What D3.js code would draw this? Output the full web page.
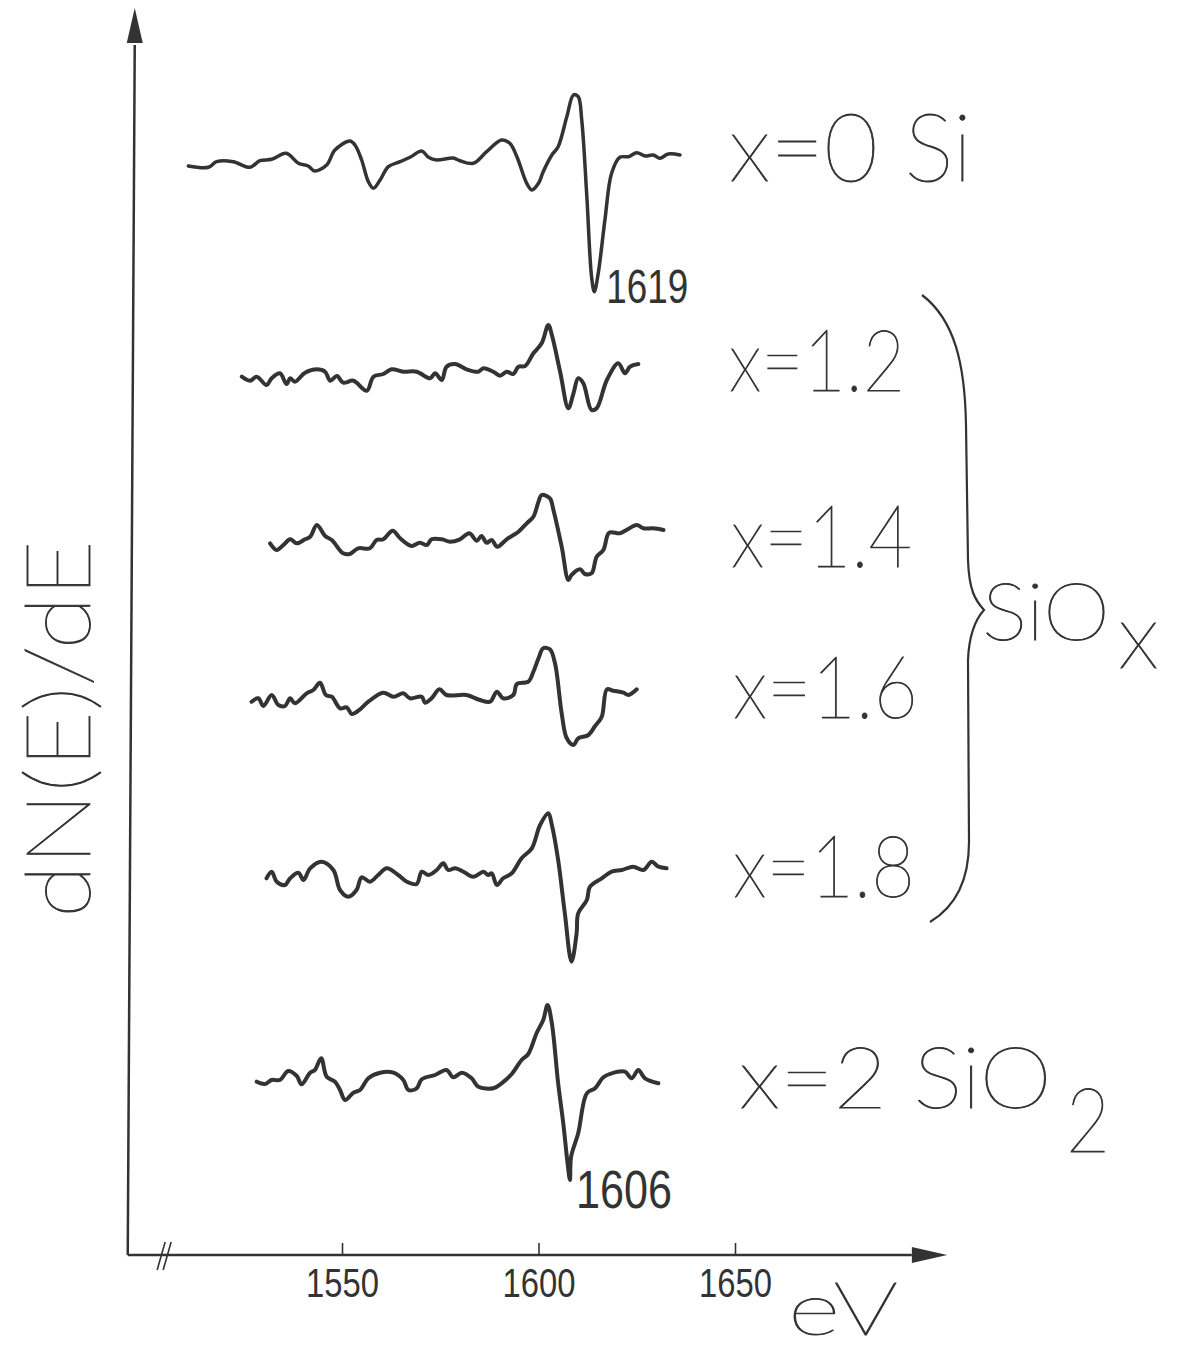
<!DOCTYPE html>
<html>
<head>
<meta charset="utf-8">
<script src="https://cdn.jsdelivr.net/npm/d3@7"></script>
<style>
  body { margin: 0; background: #fff; }
</style>
</head>
<body>
<div id="chart-wrapper"></div>
<script>
let width = 1185
let height = 1352
let ink = "#333"

// Auger spectra, [energy eV, dN/dE arb. units] relative to each trace baseline
let si = [
  [1510.9,-0.6],[1516.0,-0.73],[1518.1,-0.17],[1522.3,-0.17],[1526.6,-0.73],[1529.1,-0.07],
  [1532.1,0.07],[1535.8,0.67],[1538.9,-0.33],[1541.4,-0.6],[1543.0,-1.1],[1546.1,-0.5],
  [1548.2,1.0],[1552.0,1.9],[1553.3,1.5],[1555.0,0],[1556.7,-2.17],[1558.0,-2.83],
  [1559.7,-2.0],[1561.8,-0.67],[1564.8,-0.17],[1567.3,0.27],[1570.3,0.9],[1572.0,0.27],
  [1574.1,0],[1578.3,0.2],[1580.0,-0.07],[1583.4,-0.33],[1586.8,0.83],[1590.6,2.0],
  [1592.7,1.67],[1594.5,0.33],[1597.0,-2.33],[1598.3,-3.0],[1600.0,-2.33],[1601.2,-1.17],
  [1603.4,0.5],[1605.0,1.33],[1607.2,4.33],[1608.9,6.5],[1610.1,6.33],[1611.0,4.0],
  [1612.3,-3.67],[1613.5,-11.67],[1614.2,-13.17],[1615.2,-11.33],[1616.9,-6.0],[1618.6,-1.33],
  [1620.7,0.27],[1622.9,0.33],[1625.0,0.73],[1627.1,0.4],[1629.2,0.5],[1630.9,0.17],
  [1633.0,0.6],[1636.0,0.5]
]
let x12 = [
  [1524.5,-0.37],[1526.6,-0.77],[1528.3,-0.37],[1530.8,-1.2],[1532.1,-0.53],[1534.2,-0.03],
  [1535.9,-1.1],[1536.8,-0.53],[1538.0,-0.87],[1540.6,0.03],[1543.6,0.37],[1545.7,0.13],
  [1547.0,-0.77],[1548.7,-0.3],[1550.3,-0.97],[1552.9,-0.77],[1556.3,-1.77],[1558.0,-0.37],
  [1560.5,-0.1],[1562.6,0.37],[1565.6,0.13],[1569.0,0.13],[1572.4,-0.53],[1573.7,-0.03],
  [1575.4,-0.7],[1576.6,0.63],[1578.8,0.9],[1581.7,0.37],[1584.7,0.13],[1586.0,0.47],
  [1588.5,0.13],[1590.2,-0.27],[1591.9,0.13],[1593.6,-0.1],[1594.9,0.63],[1596.6,0.7],
  [1598.7,1.97],[1600.8,2.97],[1602.5,4.8],[1603.4,3.8],[1605.5,0.13],[1607.6,-3.53],
  [1608.9,-2.03],[1610.1,-0.53],[1611.4,-1.03],[1613.5,-3.7],[1614.8,-3.53],[1617.4,-0.7],
  [1620.3,0.97],[1622.0,-0.03],[1623.3,0.63],[1625.4,0.9]
]
let x14 = [
  [1531.7,-0.33],[1533.4,-1.0],[1535.1,-0.5],[1536.8,0.07],[1538.5,-0.33],[1540.6,0.07],
  [1541.9,0.33],[1543.6,1.5],[1545.7,0.4],[1547.4,0],[1550.3,-1.33],[1552.0,-1.4],
  [1554.1,-0.83],[1557.1,-0.83],[1558.8,0],[1560.5,0.07],[1562.9,0.93],[1564.8,0.17],
  [1567.7,-0.6],[1569.8,-0.27],[1571.6,-0.5],[1572.8,0.07],[1575.4,0.07],[1577.5,-0.17],
  [1580.0,0.07],[1582.4,0.67],[1584.3,-0.07],[1585.5,0.4],[1586.8,-0.27],[1588.1,0],
  [1589.5,-0.67],[1591.9,0.07],[1594.9,0.83],[1597.0,1.67],[1598.7,2.33],[1600.0,3.83],
  [1600.8,4.5],[1602.9,4.17],[1603.8,3.0],[1605.9,-0.67],[1607.6,-4.0],[1608.4,-3.5],
  [1610.6,-2.93],[1611.8,-3.4],[1613.5,-3.33],[1614.8,-1.67],[1616.5,-1.0],[1618.0,0.73],
  [1620.7,0.67],[1622.4,1.0],[1625.0,1.5],[1626.7,1.17],[1629.2,1.17],[1631.8,1.0]
]
let x16 = [
  [1527.0,-0.47],[1528.7,-0.13],[1530.0,-0.9],[1532.1,0.2],[1533.8,-0.8],[1535.5,-0.9],
  [1536.8,-0.13],[1538.0,-0.63],[1541.0,0.37],[1542.7,0.7],[1544.4,1.43],[1545.9,0.2],
  [1547.4,0.03],[1549.5,-1.13],[1551.2,-1.03],[1552.5,-1.7],[1554.6,-1.23],[1556.7,-0.47],
  [1560.5,0.43],[1563.1,0.03],[1565.6,0.37],[1567.3,-0.13],[1570.3,0.03],[1571.1,-0.57],
  [1572.8,-0.13],[1574.8,0.77],[1576.6,0.2],[1581.7,0.2],[1585.1,-0.3],[1587.7,-0.47],
  [1589.4,0.53],[1591.0,-0.13],[1593.6,0.2],[1594.5,1.3],[1597.4,1.53],[1598.7,2.53],
  [1600.0,3.87],[1601.2,4.87],[1602.9,4.77],[1604.2,3.37],[1605.9,-1.63],[1607.2,-4.13],
  [1608.9,-4.8],[1610.1,-4.13],[1612.7,-3.8],[1614.4,-2.9],[1616.1,-1.97],[1617.4,0.77],
  [1619.0,0.63],[1621.6,0.43],[1622.9,0.2],[1625.0,0.77]
]
let x18 = [
  [1530.8,-0.63],[1532.1,0.03],[1533.4,-0.97],[1535.5,-1.3],[1536.8,-0.63],[1538.9,-0.07],
  [1540.2,-0.8],[1541.9,0.37],[1544.8,1.03],[1547.8,0.2],[1549.5,-1.8],[1551.6,-2.47],
  [1553.7,-1.8],[1555.0,-0.53],[1557.1,-0.97],[1559.2,-0.3],[1561.4,0.37],[1564.3,-0.3],
  [1566.5,-0.97],[1569.0,-1.2],[1570.3,0.03],[1572.0,-0.3],[1574.1,0.2],[1575.8,0.87],
  [1577.0,0.2],[1578.8,0.37],[1580.9,0.03],[1583.4,-0.47],[1586.0,0.03],[1587.2,-0.3],
  [1588.1,-0.13],[1589.4,-1.3],[1591.0,-0.63],[1593.2,-0.13],[1595.7,1.37],[1598.3,2.37],
  [1600.4,4.7],[1602.5,5.87],[1603.4,4.7],[1605.0,1.2],[1606.7,-4.13],[1608.4,-8.97],
  [1609.7,-6.13],[1610.1,-4.13],[1612.3,-2.8],[1613.1,-1.47],[1616.1,-0.63],[1618.6,0.03],
  [1621.2,0.2],[1624.1,0.53],[1626.7,0.2],[1628.8,1.03],[1630.5,0.53],[1632.6,0.37]
]
let sio2 = [
  [1528.3,-0.37],[1530.4,-0.6],[1532.1,-0.2],[1534.2,-0.2],[1536.3,0.7],[1538.5,0.2],
  [1539.7,-0.63],[1541.9,0.53],[1543.1,0.8],[1544.7,1.97],[1546.1,0.13],[1548.2,-0.37],
  [1549.5,-1.2],[1550.8,-2.2],[1552.9,-1.47],[1554.6,-1.2],[1556.7,-0.03],[1559.7,0.53],
  [1563.1,0.53],[1565.6,-0.2],[1566.9,-1.2],[1569.0,-1.03],[1570.3,-0.13],[1573.7,0.3],
  [1576.6,0.8],[1578.3,0.07],[1580.5,0.53],[1583.0,-0.03],[1584.7,-0.87],[1588.5,-1.03],
  [1590.6,-0.53],[1593.2,0.4],[1595.7,1.8],[1597.4,2.4],[1599.5,4.47],[1601.2,5.8],
  [1602.3,7.3],[1603.4,5.47],[1605.0,-0.53],[1606.3,-4.53],[1607.4,-8.53],[1608.0,-10.2],
  [1608.3,-7.87],[1610.1,-5.53],[1612.3,-1.53],[1614.4,-1.03],[1616.5,0.07],[1618.6,0.47],
  [1622.0,0.63],[1623.7,-0.03],[1625.4,0.8],[1627.1,-0.03],[1630.5,-0.53]
]

let spectra = [si, x12, x14, x16, x18, sio2]
let offsets = [109.5, 88.2, 71.5, 55.8, 38.3, 17.7]
let labels = ["x=0 Si", "x=1.2", "x=1.4", "x=1.6", "x=1.8", "x=2 SiO"]
let xTicks = [1550, 1600, 1650]
let peakNotes = [["1619", 0, 1614.2], ["1606", 5, 1608.0]]

let svg = d3.select("#chart-wrapper")
  .append("svg")
  .attr("width", width)
  .attr("height", height)

let x = d3.scaleLinear().domain([1550, 1650]).range([342, 735])
let y = d3.scaleLinear().domain([0, 124.7]).range([1255, 8])

let narrow = "'Liberation Sans', Arial, sans-serif"
let labelFont = "Lato, 'Open Sans', sans-serif"

// thin stencil-like lettering
function thin(sel) {
  sel.attr("fill", ink)
    .attr("font-family", labelFont)
    .attr("font-weight", 200)
    .attr("stroke", ink)
    .attr("stroke-width", 0.9)
}

// Axes
let x0 = x(1496.5), y0 = y(0)
svg.append("line")
  .attr("x1", x0-4).attr("y1", y0).attr("x2", x(1695)).attr("y2", y0)
  .attr("stroke", ink).attr("stroke-width", 2.5)
svg.append("path")
  .attr("d", `M${x(1704)},${y0} L${x(1695)},${y0-8} L${x(1695)},${y0+8} Z`)
  .attr("fill", ink)
svg.append("line")
  .attr("x1", x0-4).attr("y1", y0).attr("x2", x0+3).attr("y2", y(121))
  .attr("stroke", ink).attr("stroke-width", 2.5)
svg.append("path")
  .attr("d", `M${x0+3},${y(124.7)} L${x0-5},${y(121.2)} L${x0+11},${y(121.2)} Z`)
  .attr("fill", ink)

// axis break
let bx = x(1505)
svg.append("path")
  .attr("d", `M${bx-8},${y0+15} L${bx},${y0-13} M${bx-2},${y0+15} L${bx+6},${y0-13}`)
  .attr("stroke", ink).attr("stroke-width", 1.6).attr("fill", "none")

let xAxis = d3.axisBottom(x)
  .tickValues(xTicks)
  .tickFormat(d3.format("d"))
  .tickSizeInner(-12)
  .tickSizeOuter(0)
  .tickPadding(13)
svg.append("g")
  .attr("class", "xAxis")
  .attr("transform", `translate(0,${y0})`)
  .call(xAxis)
  .call(g => g.select(".domain").remove())
d3.selectAll(".xAxis line").attr("stroke", ink).attr("stroke-width", 1.6)
d3.selectAll(".xAxis text")
  .attr("fill", ink)
  .attr("font-family", narrow)
  .attr("font-size", 41)
  .attr("textLength", 73)
  .attr("lengthAdjust", "spacingAndGlyphs")

// Traces
let line = d3.line()
  .x(d => x(d[0]))
  .y(d => y(d[1]))
  .curve(d3.curveCatmullRom.alpha(0.5))

svg.selectAll(".trace")
  .data(spectra)
  .enter()
  .append("path")
  .attr("class", "trace")
  .attr("fill", "none")
  .attr("stroke", ink)
  .attr("stroke-width", (d, i) => i == 0 ? 3.5 : 4)
  .attr("stroke-linejoin", "round")
  .attr("stroke-linecap", "round")
  .attr("d", (d, i) => line(d.map(p => [p[0], p[1] + offsets[i]])))

// peak energies
svg.selectAll(".note")
  .data(peakNotes)
  .enter()
  .append("text")
  .attr("class", "note")
  .attr("x", (d, i) => x(d[2]) + (i == 0 ? 12 : 6))
  .attr("y", (d, i) => i == 0 ? 303 : 1208)
  .attr("fill", ink)
  .attr("font-family", narrow)
  .attr("font-size", (d, i) => i == 0 ? 48 : 53)
  .attr("textLength", (d, i) => i == 0 ? 82 : 96)
  .attr("lengthAdjust", "spacingAndGlyphs")
  .text(d => d[0])

// Labels
let labelPos = [[729, 181], [729, 391], [731, 567], [733, 718], [733, 897], [739, 1108]]
let labelLen = [243, 176, 181, 185, 182, 313]
svg.selectAll(".label")
  .data(labels)
  .enter()
  .append("text")
  .attr("class", "label")
  .attr("x", (d, i) => labelPos[i][0])
  .attr("y", (d, i) => labelPos[i][1])
  .call(thin)
  .attr("font-size", (d, i) => i == 0 ? 94 : 86)
  .attr("textLength", (d, i) => labelLen[i])
  .attr("lengthAdjust", "spacingAndGlyphs")
  .text(d => d)
svg.append("text")
  .attr("x", 1066).attr("y", 1152)
  .call(thin)
  .attr("font-size", 90)
  .attr("textLength", 44)
  .attr("lengthAdjust", "spacingAndGlyphs")
  .text("2")

// SiOx bracket
let bTop = y(offsets[1]) - 78, bBot = y(offsets[4]) + 50, bMid = 610
let brace = d3.path()
brace.moveTo(922, bTop)
brace.bezierCurveTo(955, bTop + 25, 965, bTop + 70, 966, bTop + 130)
brace.lineTo(968, bMid - 50)
brace.bezierCurveTo(969, bMid - 20, 975, bMid - 10, 984, bMid)
brace.bezierCurveTo(975, bMid + 10, 969, bMid + 25, 968, bMid + 50)
brace.lineTo(969, bBot - 80)
brace.bezierCurveTo(969, bBot - 40, 955, bBot - 15, 930, bBot)
svg.append("path")
  .attr("d", brace.toString())
  .attr("fill", "none")
  .attr("stroke", ink)
  .attr("stroke-width", 2.2)

svg.append("text")
  .attr("x", 982).attr("y", 640)
  .call(thin)
  .attr("font-size", 80)
  .attr("textLength", 128)
  .attr("lengthAdjust", "spacingAndGlyphs")
  .text("SiO")
svg.append("text")
  .attr("x", 1118).attr("y", 668)
  .call(thin)
  .attr("font-size", 92)
  .text("x")

// axis titles
svg.append("text")
  .attr("transform", `translate(90,729) rotate(-90)`)
  .attr("text-anchor", "middle")
  .call(thin)
  .attr("font-size", 90)
  .attr("textLength", 378)
  .attr("lengthAdjust", "spacingAndGlyphs")
  .text("dN(E)/dE")

svg.append("text")
  .attr("x", 788).attr("y", 1335)
  .call(thin)
  .attr("font-size", 74)
  .attr("textLength", 110)
  .attr("lengthAdjust", "spacingAndGlyphs")
  .text("eV")
</script>
</body>
</html>
